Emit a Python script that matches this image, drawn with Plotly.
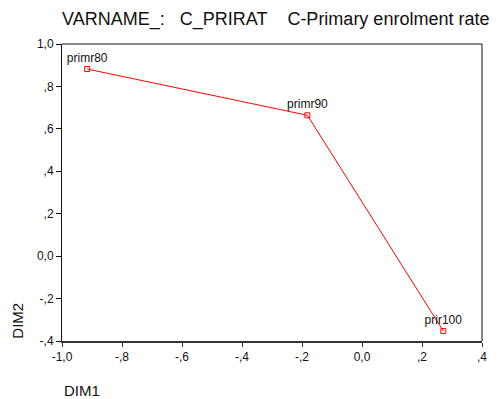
import plotly.graph_objects as go

labels = ["primr80", "primr90", "prir100"]
dim1 = [-0.916, -0.182, 0.271]
dim2 = [0.882, 0.664, -0.353]

xtick_vals = [-1.0, -0.8, -0.6, -0.4, -0.2, 0.0, 0.2, 0.4]
xtick_text = ["-1,0", "-,8", "-,6", "-,4", "-,2", "0,0", ",2", ",4"]
ytick_vals = [-0.4, -0.2, 0.0, 0.2, 0.4, 0.6, 0.8, 1.0]
ytick_text = ["-,4", "-,2", "0,0", ",2", ",4", ",6", ",8", "1,0"]

title_text = ("VARNAME_:\u00a0\u00a0\u00a0C_PRIRAT\u00a0\u00a0\u00a0\u00a0"
              "C-Primary enrolment rate")

font = "Arial, Liberation Sans, sans-serif"

fig = go.Figure()
fig.add_trace(go.Scatter(
    x=dim1, y=dim2, mode="lines+markers+text",
    text=labels, textposition="top center",
    textfont=dict(family=font, size=12, color="#111"),
    line=dict(color="red", width=1),
    marker=dict(symbol="square-open", size=5, color="red", line=dict(width=1, color="red")),
    cliponaxis=False, showlegend=False,
))

fig.update_layout(
    width=504, height=399,
    margin=dict(l=62, r=22, t=44, b=58),
    paper_bgcolor="white", plot_bgcolor="white",
    font=dict(family=font, size=12, color="#111"),
    title=dict(text=title_text,
               x=0, xref="paper", xanchor="left", y=0.954, yanchor="middle",
               font=dict(family=font, size=18, color="#111")),
    xaxis=dict(range=[-1.0, 0.4], tickvals=xtick_vals, ticktext=xtick_text,
               showgrid=False, zeroline=False, showline=True, linecolor="#333",
               linewidth=2, mirror=False, ticks="outside", ticklen=4, tickcolor="#333",
               tickfont=dict(family=font, size=12, color="#111")),
    yaxis=dict(range=[-0.4, 1.0], tickvals=ytick_vals, ticktext=ytick_text,
               showgrid=False, zeroline=False, showline=True, linecolor="#111",
               linewidth=1, ticks="outside", ticklen=5, tickcolor="#111",
               tickfont=dict(family=font, size=12, color="#111")),
    shapes=[
        dict(type="line", xref="paper", yref="paper", x0=0, x1=1, y0=1, y1=1,
             line=dict(color="#111", width=1)),
        dict(type="line", xref="paper", yref="paper", x0=1, x1=1, y0=0, y1=1,
             line=dict(color="#111", width=1)),
    ],
    annotations=[
        dict(text="DIM2", xref="paper", yref="paper", x=-0.108, y=0.0,
             xanchor="center", yanchor="bottom", textangle=-90, showarrow=False,
             font=dict(family=font, size=15, color="#111")),
        dict(text="DIM1", xref="paper", yref="paper", x=0.0, y=-0.165,
             xanchor="left", yanchor="middle", showarrow=False,
             font=dict(family=font, size=15, color="#111")),
    ],
)

fig.write_html("out.html", config={"displayModeBar": False},
               post_script="document.body.style.margin='0px';document.body.style.overflow='hidden';")
